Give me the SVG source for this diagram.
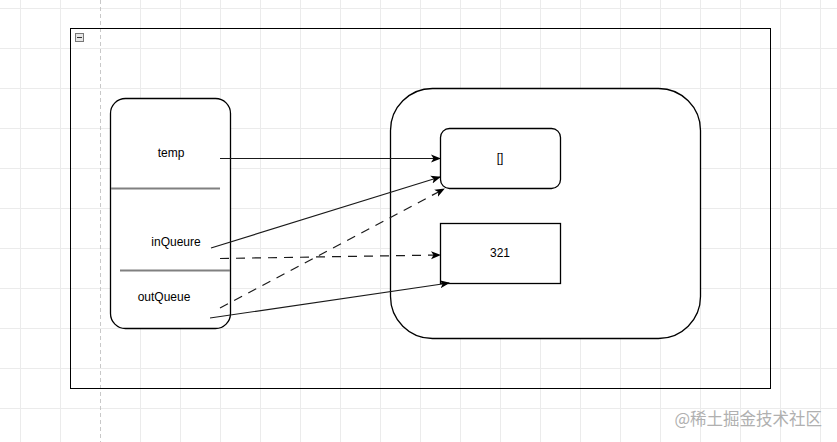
<svg xmlns="http://www.w3.org/2000/svg" width="837" height="442" viewBox="0 0 837 442">
<defs>
<style>
.grid{stroke:#ebebeb;stroke-width:1}
.box{fill:#fff;stroke:#000;stroke-width:1.3}
.lbl{font-family:"Liberation Sans",Arial,sans-serif;font-size:12px;fill:#000;text-anchor:middle;dominant-baseline:central}
.sep{stroke:#808080;stroke-width:2}
.edge{fill:none;stroke:#1a1a1a;stroke-width:1.2}
.dash{stroke-dasharray:9 7}
</style>
<marker id="arr" viewBox="0 0 10 10" refX="9" refY="5" markerWidth="10" markerHeight="10" markerUnits="userSpaceOnUse" orient="auto">
<path d="M0,1 L10,5 L0,9 L2.5,5 Z" fill="#000"/>
</marker>
</defs>
<rect width="837" height="442" fill="#fff"/>
<g id="grid">
<path class="grid" d="M20.5,0V442M60.5,0V442M140.5,0V442M180.5,0V442M220.5,0V442M260.5,0V442M300.5,0V442M340.5,0V442M380.5,0V442M420.5,0V442M460.5,0V442M500.5,0V442M540.5,0V442M580.5,0V442M620.5,0V442M660.5,0V442M700.5,0V442M740.5,0V442M780.5,0V442M820.5,0V442"/>
<path class="grid" d="M0,8.5H837M0,48.5H837M0,88.5H837M0,128.5H837M0,168.5H837M0,208.5H837M0,248.5H837M0,288.5H837M0,328.5H837M0,368.5H837M0,408.5H837"/>
<path d="M100.5,0V442" stroke="#c8c8c8" stroke-width="1" stroke-dasharray="4 3"/>
</g>
<g id="frame">
<rect x="70.5" y="28.5" width="700" height="360" fill="none" stroke="#000" stroke-width="1"/>
<rect x="75.5" y="33.5" width="8" height="8" fill="#e6e6e6" stroke="#777" stroke-width="1"/>
<path d="M77,37.5H82" stroke="#333" stroke-width="1"/>
</g>
<g id="vars">
<rect class="box" x="110.5" y="98.5" width="120" height="230" rx="15"/>
<line class="sep" x1="111" y1="188.5" x2="220" y2="188.5"/>
<line class="sep" x1="120" y1="270.5" x2="230" y2="270.5"/>
<text class="lbl" x="171" y="153">temp</text>
<text class="lbl" x="176" y="242">inQueure</text>
<text class="lbl" x="164" y="297">outQueue</text>
</g>
<g id="heap">
<rect class="box" x="390.5" y="88.5" width="310" height="250" rx="42"/>
</g>
<g id="node-empty">
<rect class="box" x="440.5" y="128.5" width="120" height="60" rx="9"/>
<text class="lbl" x="500" y="158">[]</text>
</g>
<g id="node-321">
<rect class="box" x="440.5" y="223.5" width="120" height="60"/>
<text class="lbl" x="500" y="253">321</text>
</g>
<g id="connectors">
<path class="edge" d="M220,158.5H440" marker-end="url(#arr)"/>
<path class="edge" d="M211,248L440,177" marker-end="url(#arr)"/>
<path class="edge dash" d="M220,258.5L440,255" marker-end="url(#arr)"/>
<path class="edge dash" d="M220,308L444,189" marker-end="url(#arr)"/>
<path class="edge" d="M210,318L449,283" marker-end="url(#arr)"/>
</g>
<text x="822" y="418" font-family="'Noto Sans CJK SC',sans-serif" font-size="16.5" fill="#b0b0b0" text-anchor="end" dominant-baseline="central">@稀土掘金技术社区</text>
</svg>
